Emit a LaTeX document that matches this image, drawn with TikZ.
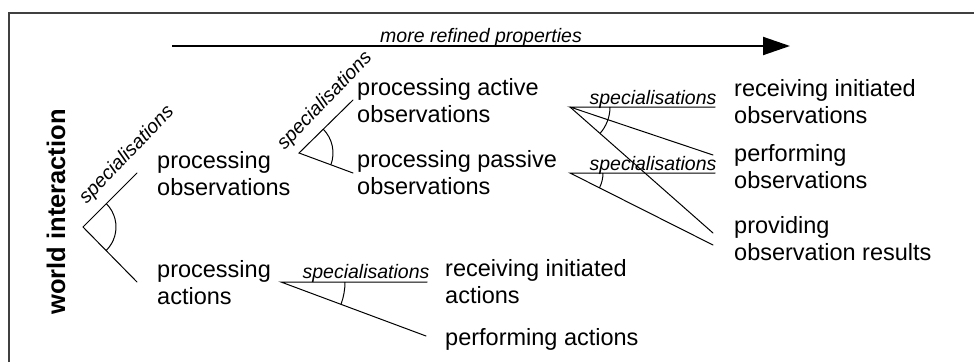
\documentclass[tikz,border=0pt]{standalone}
\usepackage{fontspec}
\setmainfont{Liberation Sans}
\usetikzlibrary{arrows.meta,angles}
\begin{document}
\begin{tikzpicture}[x=1pt,y=-1pt,
  lbl/.style={inner sep=0pt, anchor=base west, align=left,
    font=\fontsize{23.5}{27}\selectfont},
  spec/.style={inner sep=0pt, anchor=base,
    font=\fontsize{19.5}{22}\selectfont\itshape},
  rspec/.style={inner sep=0pt, anchor=center,
    font=\fontsize{19.5}{22}\selectfont\itshape},
  fork/.style={line width=1pt, line cap=round},
  sweep/.style={draw, line width=1pt},
  frame/.style={line width=2pt, draw=black!75}]
\useasboundingbox (0,0) rectangle (974,362);

% open frame (top and left edges)
\coordinate (fr1) at (9,362);
\coordinate (fr2) at (9,13);
\coordinate (fr3) at (974,13);
\draw[frame] (fr1) -- (fr2) -- (fr3);

% direction of refinement
\coordinate (ar0) at (172,46);
\coordinate (ar1) at (790,46);
\draw[line width=2pt, -{Triangle[length=27pt,width=18pt]}] (ar0) -- (ar1);
\node[spec] (refined) at (481,42) {more refined properties};

% side title
\node[inner sep=0pt, anchor=base, rotate=90,
  font=\fontsize{25.5}{30}\selectfont\bfseries] (world) at (65,212) {world interaction};

% text labels (anchored on the baseline of their last line)
\node[lbl] (po)   at (157,195) {processing\\observations};
\node[lbl] (pa)   at (157,304) {processing\\actions};
\node[lbl] (pao)  at (357,122) {processing active\\observations};
\node[lbl] (ppo)  at (357,194) {processing passive\\observations};
\node[lbl] (rio)  at (734,123) {receiving initiated\\observations};
\node[lbl] (perf) at (734,188) {performing\\observations};
\node[lbl] (prov) at (734,260) {providing\\observation results};
\node[lbl] (ria)  at (445,303) {receiving initiated\\actions};
\node[lbl] (pfa)  at (445,345) {performing actions};

% fork 1: world interaction -> observations / actions
\coordinate (v1) at (83,227);
\coordinate (v1u) at (137,173);
\coordinate (v1d) at (137,282);
\draw[fork] (v1u) -- (v1) -- (v1d);
\pic[sweep, angle radius=33pt] {angle=v1d--v1--v1u};
\node[rspec, rotate=46] (s1) at (127,155) {specialisations};

% fork 2: processing observations -> active / passive
\coordinate (v2) at (299,153);
\coordinate (v2u) at (353,100);
\coordinate (v2d) at (353,173);
\draw[fork] (v2u) -- (v2) -- (v2d);
\pic[sweep, angle radius=34pt] {angle=v2d--v2--v2u};
\node[rspec, rotate=46] (s2) at (325,101) {specialisations};

% fork 3: processing active observations
\coordinate (v3) at (570,107);
\coordinate (v3u) at (715,107);
\coordinate (v3m) at (713,155);
\coordinate (v3d) at (713,233);
\draw[fork] (v3u) -- (v3) -- (v3m);
\draw[fork] (v3) -- (v3d);
\pic[sweep, angle radius=40pt] {angle=v3d--v3--v3u};
\node[spec] (s3) at (653,104) {specialisations};

% fork 4: processing passive observations
\coordinate (v4) at (570,173);
\coordinate (v4u) at (715,173);
\coordinate (v4d) at (713,245);
\draw[fork] (v4u) -- (v4) -- (v4d);
\pic[sweep, angle radius=33pt] {angle=v4d--v4--v4u};
\node[spec] (s4) at (653,170) {specialisations};

% fork 5: processing actions
\coordinate (v5) at (281,282);
\coordinate (v5u) at (427,282);
\coordinate (v5d) at (426,336);
\draw[fork] (v5u) -- (v5) -- (v5d);
\pic[sweep, angle radius=64pt] {angle=v5d--v5--v5u};
\node[spec] (s5) at (366,278) {specialisations};
\end{tikzpicture}
\end{document}
